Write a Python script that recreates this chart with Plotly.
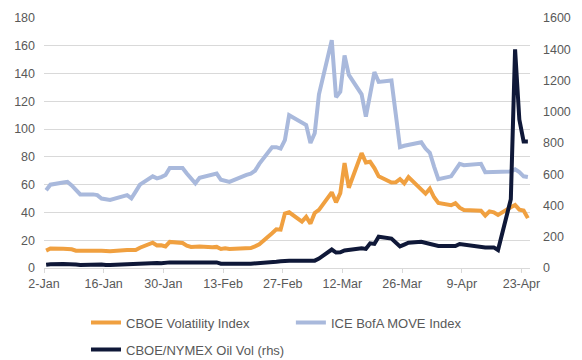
import pandas as pd
import plotly.graph_objects as go

dates = [
    "2020-01-02", "2020-01-03", "2020-01-06", "2020-01-07", "2020-01-08", "2020-01-09", "2020-01-10",
    "2020-01-13", "2020-01-14", "2020-01-15", "2020-01-16", "2020-01-17", "2020-01-21", "2020-01-22",
    "2020-01-23", "2020-01-24", "2020-01-27", "2020-01-28", "2020-01-29", "2020-01-30", "2020-01-31",
    "2020-02-03", "2020-02-04", "2020-02-05", "2020-02-06", "2020-02-07", "2020-02-10", "2020-02-11",
    "2020-02-12", "2020-02-13", "2020-02-14", "2020-02-18", "2020-02-19", "2020-02-20", "2020-02-21",
    "2020-02-24", "2020-02-25", "2020-02-26", "2020-02-27", "2020-02-28",
    "2020-03-02", "2020-03-03", "2020-03-04", "2020-03-05", "2020-03-06", "2020-03-09", "2020-03-10",
    "2020-03-11", "2020-03-12", "2020-03-13", "2020-03-16", "2020-03-17", "2020-03-18", "2020-03-19",
    "2020-03-20", "2020-03-23", "2020-03-24", "2020-03-25", "2020-03-26", "2020-03-27", "2020-03-30",
    "2020-03-31",
    "2020-04-01", "2020-04-02", "2020-04-03", "2020-04-06", "2020-04-07", "2020-04-08", "2020-04-09",
    "2020-04-13", "2020-04-14", "2020-04-15", "2020-04-16", "2020-04-17", "2020-04-20", "2020-04-21",
    "2020-04-22", "2020-04-23", "2020-04-24",
]

vix = [
    12.5, 14.0, 13.9, 13.8, 13.5, 12.5, 12.6, 12.3, 12.4, 12.4, 12.3, 12.1, 12.9, 12.9, 13.0, 14.6, 18.2, 16.3, 16.4, 15.5, 18.8,
    18.0, 16.1, 15.2, 15.0, 15.5, 15.0, 15.2, 13.7, 14.2, 13.7, 14.8, 14.4, 15.6, 17.1, 25.0, 27.9, 27.6, 39.2, 40.1,
    33.4, 36.8, 32.0, 39.6, 41.9, 54.5, 47.3, 53.9, 75.5, 57.8, 82.7, 75.9, 76.5, 72.0, 66.0, 61.6, 61.7, 64.0, 61.0, 65.5, 57.1, 53.5,
    57.1, 50.9, 46.8, 45.2, 46.7, 43.4, 41.7, 41.2, 37.8, 40.8, 40.1, 38.2, 43.8, 45.4, 42.0, 41.4, 35.9,
]

move = [
    56, 60, 61.5, 62, 59.5, 56, 53, 53, 52.5, 50, 49.5, 49, 52.5, 50.2, 55, 60, 66, 64.5, 65.5, 67, 72,
    72, 68, 64, 61, 65, 67.5, 68, 63.5, 63, 62, 67, 68, 70, 75, 87, 87, 86, 92, 110,
    105, 103, 90, 97, 125, 164, 123, 127, 153, 139, 125, 109, 125, 141, 134, 135, 111, 87, 88, 88.5, 90.5, 86,
    83, 73, 64, 66, 70, 75, 74, 75, 69, 69, 69, 69, 69.5, 71, 69, 66, 65.5,
]

oil = [
    21, 24, 25, 26, 27, 22, 19, 22, 25, 23, 20, 19, 24, 26, 28, 30, 34, 32, 30, 33, 36,
    36, 36, 35, 35, 36, 36, 36, 28, 27, 27, 27, 28, 29, 30, 35, 40, 43, 46, 47,
    47, 47, 47, 47, 60, 118, 99, 100, 112, 116, 126, 122, 158, 154, 200, 188, 165, 138, 150, 162, 168, 162,
    155, 147, 141, 141, 141, 154, 150, 132, 132, 132, 132, 115, 440, 1400, 950, 810, 810,
]

tick_dates = ["2020-01-02", "2020-01-16", "2020-01-30", "2020-02-13", "2020-02-27",
              "2020-03-12", "2020-03-26", "2020-04-09", "2020-04-23"]
tick_labels = ["2-Jan", "16-Jan", "30-Jan", "13-Feb", "27-Feb", "12-Mar", "26-Mar", "9-Apr", "23-Apr"]

names = ["CBOE Volatility Index", "ICE BofA MOVE Index", "CBOE/NYMEX Oil Vol (rhs)"]
colors = ["#F0A040", "#A9B9DC", "#0F1838"]

# points sit in the middle of each day slot (Excel date axis)
x = pd.to_datetime(dates) + pd.Timedelta(hours=12)

FONT = "Arial, Liberation Sans, sans-serif"
GREY = "#595959"

fig = go.Figure()
fig.add_trace(go.Scatter(x=x, y=vix, name=names[0], mode="lines",
                         line=dict(color=colors[0], width=4), legend="legend"))
fig.add_trace(go.Scatter(x=x, y=move, name=names[1], mode="lines",
                         line=dict(color=colors[1], width=4), legend="legend3"))
fig.add_trace(go.Scatter(x=x, y=oil, name=names[2], mode="lines", yaxis="y2",
                         line=dict(color=colors[2], width=4), legend="legend2"))

leg_common = dict(orientation="h", xanchor="left", yanchor="middle", itemwidth=30,
                  font=dict(size=13, color=GREY), bgcolor="rgba(0,0,0,0)")

fig.update_layout(
    template="none",
    width=582, height=360,
    margin=dict(l=44, r=52, t=18, b=92, autoexpand=False),
    paper_bgcolor="white", plot_bgcolor="white",
    font=dict(family=FONT, size=12.5, color=GREY),
    xaxis=dict(
        type="date", range=["2020-01-02", "2020-04-25"],
        tickvals=tick_dates, ticktext=tick_labels,
        showgrid=False, showline=True, linecolor="#D9D9D9", linewidth=1,
        ticks="outside", ticklen=4, tickcolor="#D9D9D9",
        tickfont=dict(size=12.5, color=GREY), zeroline=False, automargin=False,
    ),
    yaxis=dict(
        range=[0, 180], dtick=20, showgrid=True, gridcolor="#D9D9D9", gridwidth=1,
        zeroline=False, showline=False, ticks="", ticklabelstandoff=8,
        tickfont=dict(size=12.5, color=GREY), automargin=False,
    ),
    yaxis2=dict(
        range=[0, 1600], dtick=200, overlaying="y", side="right", showgrid=False,
        zeroline=False, showline=False, ticks="", ticklabelstandoff=12,
        tickfont=dict(size=12.5, color=GREY), automargin=False,
    ),
    legend=dict(x=0.0864, y=-0.218, **leg_common),
    legend3=dict(x=0.508, y=-0.218, **leg_common),
    legend2=dict(x=0.0864, y=-0.3264, **leg_common),
    showlegend=True,
)

fig.write_html("out.html", config={"displayModeBar": False},
               post_script="document.body.style.margin='0px';")
